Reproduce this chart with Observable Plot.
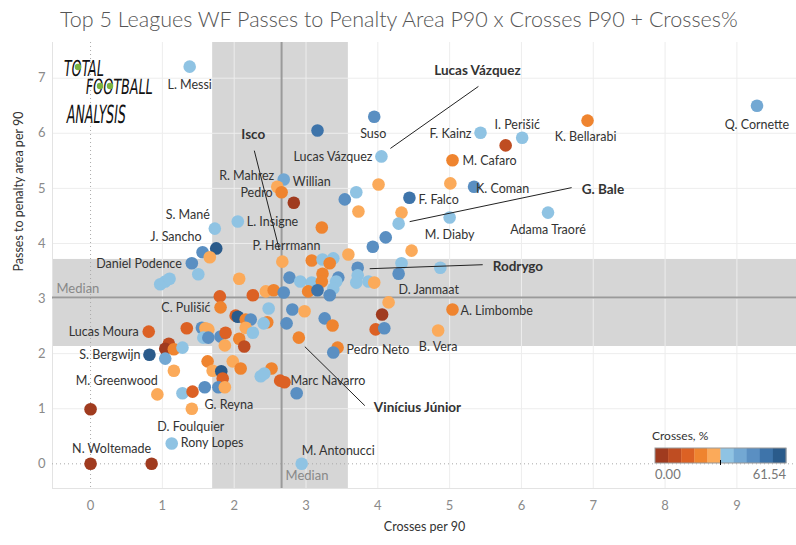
<!DOCTYPE html>
<html><head><meta charset="utf-8">
<script src="https://cdn.jsdelivr.net/npm/d3@7"></script>
<script src="https://cdn.jsdelivr.net/npm/@observablehq/plot@0.6"></script>
<style>
body{margin:0;background:#fff;font-family:Lato,sans-serif;}
#wrap{position:relative;width:796px;height:545px;overflow:hidden;background:#fff;}
#title{height:38px;line-height:38px;padding-left:60px;font-size:21.5px;color:#555;font-weight:300;white-space:nowrap;}
#chart svg{display:block;}
#logo{position:absolute;left:0;top:0;pointer-events:none;}
#legend{position:absolute;left:645px;top:426px;}
</style></head><body>
<div id="wrap">
<div id="title">Top 5 Leagues WF Passes to Penalty Area P90 x Crosses P90 + Crosses%</div>
<div id="chart"></div>
<svg id="logo" width="200" height="140"></svg>
<div id="legend"></div>
</div>
<script>
// ---------------- data ----------------
const crosses90 = [1.38,3.95,3.16,9.28,6.92,5.43,6.01,5.78,4.05,5.04,
 2.69,2.60,2.66,2.83,3.54,3.70,4.01,5.01,5.34,4.44,
 3.73,4.33,4.29,5.00,6.37,2.05,1.73,3.22,4.11,3.93,
 4.47,1.56,1.75,1.66,1.41,1.50,0.97,1.04,1.10,2.67,
 3.08,3.23,3.38,3.33,3.59,3.72,4.33,4.87,2.07,2.77,
 2.92,3.08,3.23,3.22,3.45,3.42,3.72,3.70,3.87,3.95,
 4.29,2.44,2.55,2.69,3.03,3.16,3.38,3.33,1.80,2.26,
 4.15,1.81,2.48,2.81,2.98,4.06,5.04,2.02,2.05,2.16,
 2.23,2.46,2.41,2.73,3.26,3.37,3.97,4.09,4.84,0.81,
 1.34,1.55,1.60,1.64,1.57,1.64,1.81,1.88,2.16,2.26,
 2.07,1.87,2.14,2.90,3.44,3.38,1.09,1.04,1.16,1.28,
 0.82,1.04,1.63,1.98,1.16,1.70,1.82,1.84,2.09,2.52,
 2.37,2.42,2.64,2.70,0.93,1.28,1.42,1.59,1.78,1.87,
 2.87,1.41,1.13,2.94,0.00,0.00,0.85];
const passes90 = [7.21,6.30,6.05,6.50,6.23,6.01,5.92,5.78,5.58,5.51,
 5.16,5.03,4.93,4.74,4.80,4.93,5.07,5.09,5.03,4.83,
 4.58,4.56,4.36,4.47,4.56,4.40,4.27,4.29,4.11,3.94,
 3.87,3.84,3.91,3.75,3.64,3.44,3.26,3.31,3.36,3.67,
 3.69,3.71,3.73,3.64,3.80,3.56,3.64,3.56,3.36,3.38,
 3.31,3.29,3.45,3.31,3.38,3.31,3.42,3.29,3.31,3.29,
 3.45,3.13,3.15,3.11,3.13,3.15,3.18,3.06,3.04,3.06,
 2.93,2.84,2.82,2.80,2.77,2.71,2.80,2.69,2.67,2.62,
 2.62,2.57,2.55,2.55,2.64,2.51,2.44,2.46,2.42,2.40,
 2.46,2.47,2.46,2.44,2.29,2.29,2.31,2.38,2.47,2.38,
 2.27,2.15,2.13,2.29,2.11,2.02,2.18,2.09,2.08,2.11,
 1.98,1.91,1.86,1.86,1.69,1.69,1.68,1.55,1.73,1.73,
 1.59,1.64,1.51,1.48,1.26,1.28,1.31,1.39,1.39,1.39,
 1.28,1.00,0.37,0.00,0.99,0.00,0.00];
const crossPct = [33.3,46.2,52.0,40.5,21.4,34.1,35.0,9.6,33.8,22.0,
 39.7,27.9,20.8,4.2,45.5,34.6,28.3,27.1,47.0,52.9,
 27.5,28.6,33.1,32.7,35.4,33.9,34.2,21.9,46.6,45.8,
 27.0,46.9,57.1,28.8,45.2,33.5,31.7,32.4,33.0,26.9,
 21.1,34.8,32.9,22.7,27.4,46.1,33.6,34.3,28.1,45.9,
 33.2,32.8,20.5,21.6,47.3,34.0,33.4,31.9,32.6,28.4,
 46.4,27.7,22.3,45.7,21.8,53.5,33.7,46.8,15.2,16.0,
 26.6,22.1,34.5,46.0,28.0,5.1,20.9,14.9,58.3,21.3,
 45.6,22.5,33.1,46.3,47.1,21.5,15.7,45.4,29.0,14.6,
 16.3,46.7,27.3,28.2,32.2,44.9,47.5,15.4,26.4,33.0,
 21.2,27.6,9.9,22.6,21.0,45.3,10.4,4.8,20.7,34.4,
 59.0,40.1,22.4,27.2,28.5,29.3,56.8,16.6,21.7,22.2,
 33.9,32.3,15.9,16.2,26.8,34.9,15.5,46.5,45.1,28.9,
 47.4,27.8,33.6,31.5,0.0,0.0,2.9];
const players = ["L. Messi","Suso","","Q. Cornette","K. Bellarabi","F. Kainz","I. Perišić","","Lucas Vázquez","M. Cafaro",
 "Willian","R. Mahrez","Pedro","","","","","","K. Coman","F. Falco",
 "","","G. Bale","M. Diaby","Adama Traoré","L. Insigne","S. Mané","","","",
 "","J. Sancho","","","Daniel Podence","","","","","Isco",
 "","","","","","Rodrygo","","","","P. Herrmann",
 "","","","","","","","","","",
 "","","","","","","","","","",
 "D. Janmaat","C. Pulišić","","","","","A. Limbombe","","","",
 "","","","","","","","","B. Vera","Lucas Moura",
 "","","","","","","","","","",
 "","","","Vinícius Júnior","Pedro Neto","","","","","",
 "S. Bergwijn","","","","M. Greenwood","","","","","",
 "","","","Marc Navarro","","","","","","G. Reyna",
 "","D. Foulquier","Rony Lopes","M. Antonucci","","N. Woltemade",""];
const medianCrosses = 2.66, medianPasses = 3.02;
const bandCrosses = [1.70, 3.59], bandPasses = [2.13, 3.71];
const xTicks = [0,1,2,3,4,5,6,7,8,9];
const yTicks = [0,1,2,3,4,5,6,7];
const pctMax = 61.54;
const highlighted = ["Lucas Vázquez","G. Bale","Isco","Rodrygo","Vinícius Júnior"];

// ---------------- layout / style ----------------
const palette = ["#a03b1f","#bf4d22","#dc6124","#ef842f","#fbaa5a","#8fc3e3","#73a8d3","#5a8fc2","#3e74aa","#2a5b8b"];
const thresholds = d3.range(1,10).map(i => pctMax*i/10);
const W=796, H=507, mL=52, mR=0, mT=4, mB=57;
const xDom=[-0.53,9.83], yDom=[-0.448,7.648];
const pxX=(W-mL-mR)/(xDom[1]-xDom[0]), pxY=(H-mT-mB)/(yDom[1]-yDom[0]);
// label placement: [name, anchor, dx px, dy px]
const labelLayout = [
 ["L. Messi","middle",0,18],["Q. Cornette","middle",0,19],["K. Bellarabi","middle",-2,16],
 ["I. Perišić","middle",-5,-13],["F. Kainz","end",-9,1],["Suso","middle",-1,17],
 ["Lucas Vázquez","end",-9,1],["M. Cafaro","start",10,1],["K. Coman","start",2,2],
 ["F. Falco","start",9,2],["M. Diaby","middle",0,17],["Adama Traoré","middle",0,17],
 ["Willian","start",9,2],["R. Mahrez","end",-3,-11],["Pedro","end",-9,1],
 ["L. Insigne","start",9,1],["S. Mané","end",-5,-14],["J. Sancho","end",-1,-15],
 ["P. Herrmann","middle",-3,-32],["Daniel Podence","end",-10,1],["D. Janmaat","start",10,-12],
 ["C. Pulišić","end",-10,1],["A. Limbombe","start",8,1],["Lucas Moura","end",-10,0],
 ["B. Vera","middle",0,16],["Pedro Neto","start",9,2],["S. Bergwijn","end",-9,0],
 ["M. Greenwood","end",-16,10],["Marc Navarro","start",6,-1],["G. Reyna","middle",4,18],
 ["D. Foulquier","middle",-1,18],["Rony Lopes","start",9,0],["M. Antonucci","start",0,-13],
 ["N. Woltemade","middle",21,-15]];
// callouts: [name, anchor, text dx, dy, line start dx, dy, line end dx, dy]
const calloutLayout = [
 ["Lucas Vázquez","middle",96,-86, 97,-70, 9,-8],
 ["G. Bale","start",183,-34, 173,-36, 11,-2],
 ["Isco","middle",-29,-127, -28,-111, -3,-12],
 ["Rodrygo","start",135,-1, 125,-3, 12,1],
 ["Vinícius Júnior","start",75,70, 66,68, 6,9]];

const data = players.map((name,i)=>({name, x:crosses90[i], y:passes90[i], pct:crossPct[i]}));
const byName = new Map(data.filter(d=>d.name).map(d=>[d.name,d]));
const off = (p,dx,dy)=>({x:p.x+dx/pxX, y:p.y-dy/pxY});
const labels = labelLayout.map(([name,anchor,dx,dy])=>({name,anchor,...off(byName.get(name),dx,dy)}));
const callouts = calloutLayout.filter(c=>highlighted.includes(c[0])).map(([name,anchor,tx,ty,ax,ay,bx,by])=>{
  const p=byName.get(name); const t=off(p,tx,ty), a=off(p,ax,ay), b=off(p,bx,by);
  return {name,anchor,tx:t.x,ty:t.y,x1:a.x,y1:a.y,x2:b.x,y2:b.y};
});

const labelMarks = ["start","middle","end"].map(a=>Plot.text(labels.filter(l=>l.anchor===a),
  {x:"x",y:"y",text:"name",textAnchor:a,fontSize:12.5,fill:"#333",fontFamily:"Lato"}));
const calloutMarks = ["start","middle"].map(a=>Plot.text(callouts.filter(l=>l.anchor===a),
  {x:"tx",y:"ty",text:"name",textAnchor:a,fontSize:13.5,fontWeight:"bold",fill:"#333",fontFamily:"Lato"}));

const plot = Plot.plot({
  width:W, height:H, marginLeft:mL, marginRight:mR, marginTop:mT, marginBottom:mB,
  style:{fontFamily:"Lato, sans-serif", fontSize:"13px", color:"#8a8a8a", background:"transparent", overflow:"visible"},
  x:{domain:xDom, ticks:xTicks, tickSize:0, tickPadding:12, tickFormat:d=>String(d), label:null},
  y:{domain:yDom, ticks:yTicks, tickSize:0, tickPadding:7, tickFormat:d=>String(d), label:null},
  color:{type:"threshold", domain:thresholds, range:palette},
  marks:[
    Plot.rect([bandCrosses],{x1:d=>d[0],x2:d=>d[1],y1:()=>yDom[0],y2:()=>yDom[1],fill:"#d6d6d6"}),
    Plot.rect([bandPasses],{y1:d=>d[0],y2:d=>d[1],x1:()=>xDom[0],x2:()=>xDom[1],fill:"#d6d6d6"}),
    Plot.ruleX(xTicks.filter(v=>v!==0),{stroke:"#ededed"}),
    Plot.ruleY(yTicks.filter(v=>v!==0),{stroke:"#ededed"}),
    Plot.ruleX([xDom[0]],{stroke:"#e3e3e3"}),
    Plot.ruleY([yDom[0]],{stroke:"#e3e3e3"}),
    Plot.ruleX([0],{stroke:"#aaa",strokeDasharray:"1,3"}),
    Plot.ruleY([0],{stroke:"#aaa",strokeDasharray:"1,3"}),
    Plot.ruleX([medianCrosses],{stroke:"#9a9a9a",strokeWidth:2}),
    Plot.ruleY([medianPasses],{stroke:"#9a9a9a",strokeWidth:2}),
    Plot.text([medianPasses],{y:d=>d,frameAnchor:"left",dx:4,dy:-9,text:()=>"Median",textAnchor:"start",fill:"#888",fontSize:13,ariaLabel:"median-label"}),
    Plot.text([medianCrosses],{x:d=>d,frameAnchor:"bottom",dx:4,dy:-9,text:()=>"Median",textAnchor:"start",fill:"#888",fontSize:13,ariaLabel:"median-label"}),
    Plot.dot(data,{x:"x",y:"y",r:6.3,fill:"pct",stroke:"none"}),
    ...labelMarks,
    Plot.link(callouts,{x1:"x1",y1:"y1",x2:"x2",y2:"y2",stroke:"#222",strokeWidth:1}),
    ...calloutMarks,
    Plot.text(["Crosses per 90"],{frameAnchor:"bottom",dy:42,text:d=>d,fill:"#333",fontSize:12.5}),
    Plot.text(["Passes to penalty area per 90"],{frameAnchor:"left",dx:-34,dy:6,rotate:-90,text:d=>d,fill:"#333",fontSize:12.5})
  ]
});
document.getElementById("chart").append(plot);

// background boxes behind "Median" labels
const NS="http://www.w3.org/2000/svg";
plot.querySelectorAll('g[aria-label="median-label"] text').forEach(t=>{
  const b=t.getBBox(); const r=document.createElementNS(NS,"rect");
  r.setAttribute("x",b.x-3); r.setAttribute("y",b.y-1); r.setAttribute("width",b.width+6); r.setAttribute("height",b.height+2);
  r.setAttribute("fill","#ebebeb");
  if(t.getAttribute("transform")) r.setAttribute("transform",t.getAttribute("transform"));
  t.parentNode.insertBefore(r,t);
});

// legend
const lg=d3.select("#legend").append("svg").attr("width",150).attr("height",62).style("font-family","Lato, sans-serif");
lg.append("text").attr("x",7).attr("y",14).attr("fill","#333").attr("font-size",12).text("Crosses, %");
const cw=131/palette.length;
lg.selectAll("rect.c").data(palette).join("rect").attr("x",(d,i)=>10+i*cw).attr("y",22).attr("width",cw+0.3).attr("height",15).attr("fill",d=>d);
lg.append("rect").attr("x",10).attr("y",22).attr("width",131).attr("height",15).attr("fill","none").attr("stroke","#999");
lg.append("line").attr("x1",75.5).attr("x2",75.5).attr("y1",34).attr("y2",39).attr("stroke","#000");
lg.append("text").attr("x",10).attr("y",53).attr("fill","#777").attr("font-size",13).text("0.00");
lg.append("text").attr("x",141).attr("y",53).attr("text-anchor","end").attr("fill","#777").attr("font-size",13).text(pctMax.toFixed(2));

// logo
const lo=d3.select("#logo");
const lt=[["TOTAL",63,76,40,22],["FOOTBALL",85,94,67,21],["ANALYSIS",66,123,59,25]];
lt.forEach(([t,x,y,w,s])=>lo.append("text").attr("x",x).attr("y",y).attr("textLength",w).attr("lengthAdjust","spacingAndGlyphs")
  .attr("font-family","DejaVu Sans Condensed, Liberation Sans Narrow, sans-serif").attr("font-size",s).attr("fill","#111").attr("transform",`skewX(-6) translate(${y*0.105},0)`).text(t));
[[78,67],[100,86],[110,86]].forEach(([x,y])=>lo.append("circle").attr("cx",x).attr("cy",y).attr("r",3.2).attr("fill","#7cb342"));
</script>
</body></html>
